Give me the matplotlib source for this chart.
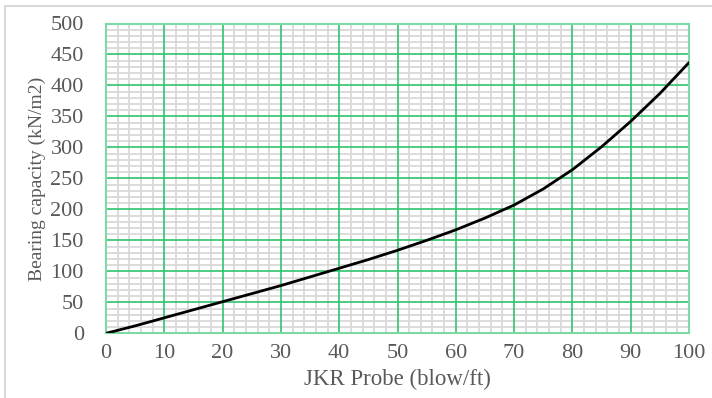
import matplotlib
matplotlib.use("Agg")
import matplotlib.pyplot as plt
from matplotlib.ticker import MultipleLocator
from matplotlib.patches import Rectangle

# Data
jkr_blows = [0, 5, 10, 15, 20, 25, 30, 35, 40, 45, 50, 55, 60, 65, 70, 75, 80, 85, 90, 95, 100]
bearing_capacity = [0, 12, 25, 38, 51, 64, 77, 91, 105, 119, 134, 150, 167, 186, 207, 233, 264, 301, 342, 387, 437]

x_ticks = list(range(0, 101, 10))
y_ticks = list(range(0, 501, 50))

plt.rcParams['font.family'] = ['Liberation Serif', 'DejaVu Serif']
text_color = '#595959'
green = '#2fc46e'

fig = plt.figure(figsize=(7.12, 3.98), dpi=100)
ax = fig.add_axes([106/712, 1-333.3/398, (689-106)/712, (333.3-23.5)/398])

# outer chart-area border
fig.patches.append(Rectangle((5/712, -0.05), 1.2, 1-6/398+0.05, transform=fig.transFigure,
                             fill=False, edgecolor='#d9d9d9', linewidth=1.5, zorder=0))

ax.set_xlim(0, 100)
ax.set_ylim(0, 500)
ax.xaxis.set_minor_locator(MultipleLocator(2))
ax.yaxis.set_minor_locator(MultipleLocator(10))
ax.set_xticks(x_ticks)
ax.set_yticks(y_ticks)

ax.grid(which='minor', color='#d9d9d9', linewidth=1.3, zorder=0)
ax.set_axisbelow(True)
for xv in x_ticks:
    ax.axvline(xv, color=green, linewidth=1.2, zorder=1)
for yv in y_ticks:
    ax.axhline(yv, color=green, linewidth=1.2, zorder=1)

for s in ax.spines.values():
    s.set_color('#7fd9a3')
    s.set_linewidth(1.5)

ax.tick_params(which='both', length=0)
ax.tick_params(axis='y', pad=16, labelsize=16, labelcolor=text_color)
ax.tick_params(axis='x', pad=8, labelsize=16, labelcolor=text_color)

ax.plot(jkr_blows, bearing_capacity, color='black', linewidth=2.0, solid_capstyle='round',
        solid_joinstyle='round', zorder=5)

ax.set_xlabel('JKR Probe (blow/ft)', fontsize=16.5, color=text_color, labelpad=4)
ax.set_ylabel('Bearing capacity (kN/m2)', fontsize=14, color=text_color, labelpad=3)

fig.savefig('out.png', dpi=100)
